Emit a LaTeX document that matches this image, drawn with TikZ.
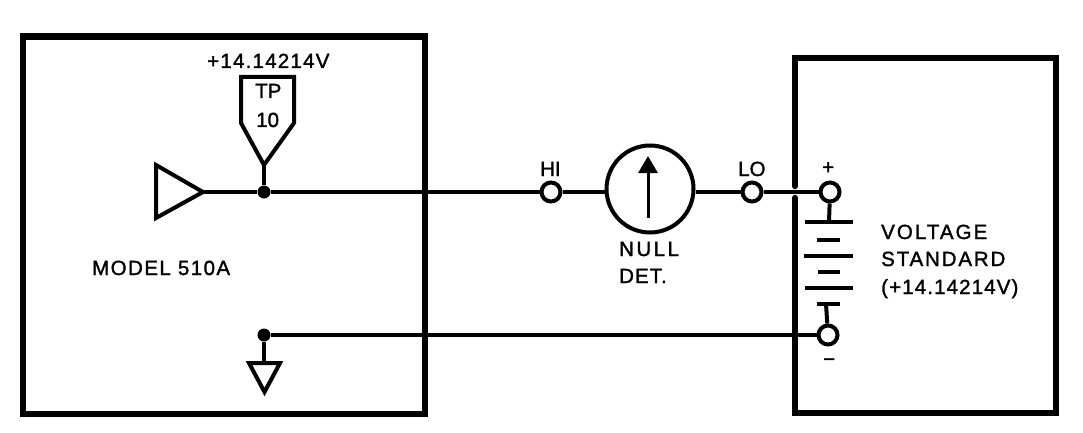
\documentclass[tikz,border=0pt]{standalone}
\usepackage{fontspec}
\setmainfont{Liberation Sans}
\newfontfamily\lblfont[FakeBold=1.5]{Liberation Sans}
\newcommand\lsp[1]{\addfontfeature{LetterSpace=#1}}
\usetikzlibrary{arrows.meta}
\tikzset{
  wall/.style={line width=6.5pt,line cap=round,line join=miter},
  wire/.style={line width=4pt},
  symbol/.style={line width=4pt,line join=miter},
  terminal/.style={circle,draw,line width=4pt,fill=white,minimum size=19pt,inner sep=0pt},
  junction/.style={circle,fill=black,minimum size=13pt,inner sep=0pt},
  meterbody/.style={circle,draw,line width=4pt,minimum size=87pt,inner sep=0pt},
  lblw/.style={font=\lblfont\fontsize{20.5}{22}\selectfont,inner sep=0pt,text=black,anchor=base west},
}
\begin{document}
\begin{tikzpicture}[x=1pt,y=-1pt]
\useasboundingbox (0,0) rectangle (1083,433);
\fill[white] (0,0) rectangle (1083,433);
% enclosures
\draw[wall] (23,36.5) -- (425,36.5) -- (425,414) -- (23,414) -- cycle;
\draw[wall] (795,186) -- (795,58) -- (1056,58) -- (1056,413) -- (795,413) -- (795,198);
% named points
\node[junction] (j1) at (264,192) {};
\node[junction] (j2) at (264,335) {};
\node[terminal] (hi) at (551,192) {};
\node[meterbody] (meter) at (650,189) {};
\node[terminal] (lo) at (752,192) {};
\node[terminal] (plus) at (830,192) {};
\node[terminal] (minus) at (828,335) {};
\coordinate (buftip) at (203,192);
\coordinate (tptip) at (264,165);
\coordinate (gndtop) at (264,363);
\coordinate (batt1) at (829,222);
\coordinate (batt5) at (826,304);
\coordinate (mtail) at (648,218);
\coordinate (mhead) at (648,156);
% symbols
\draw[symbol] (156,165) -- (156,218) -- (buftip) -- cycle;
\draw[symbol] (tptip) -- (294,123) -- (294,77) -- (241,77) -- (241,123) -- cycle;
\draw[symbol] (249,363) -- (280,363) -- (264.5,392) -- cycle;
% wires
\draw[wire] (buftip) -- (j1);
\draw[wire] (j1) -- (hi);
\draw[wire] (tptip) -- (j1);
\draw[wire] (hi) -- (hi -| meter.west);
\draw[wire] (meter.east |- lo) -- (lo);
\draw[wire] (lo) -- (plus);
\draw[wire] (j2) -- (minus);
\draw[wire] (j2) -- (gndtop);
\draw[wire] (plus) -- (batt1);
\draw[wire] (batt5) -- (minus);
% meter pointer
\draw[line width=3pt,-{Triangle[length=17pt,width=19pt]}] (mtail) -- (mhead);
% battery
\draw[wire] (805,222) -- (853,222);
\draw[wire] (817,240) -- (840,240);
\draw[wire] (804,256) -- (853,256);
\draw[wire] (818,272) -- (840,272);
\draw[wire] (805,288) -- (853,288);
\draw[wire] (817,304) -- (840,304);
% labels
\node[lblw] (vtp) at (207,68) {\lsp{6}+14.14214V};
\node[lblw] (tp) at (255,98) {TP};
\node[lblw] (ten) at (256,127) {10};
\node[lblw] (model) at (92,275) {\lsp{7}MODEL 510A};
\node[lblw] (hil) at (540,176) {HI};
\node[lblw] (lol) at (738,176) {LO};
\node[lblw] (null) at (619,256) {\lsp{12}NULL};
\node[lblw] (det) at (619,283) {\lsp{5}DET.};
\node[lblw] (pl) at (822,174) {+};
\node[lblw] (mi) at (823,366) {−};
\node[lblw] (v1) at (881,239) {\lsp{10}VOLTAGE};
\node[lblw] (v2) at (881,266) {\lsp{9}STANDARD};
\node[lblw] (v3) at (881,294) {\lsp{5.5}(+14.14214V)};
\end{tikzpicture}
\end{document}
